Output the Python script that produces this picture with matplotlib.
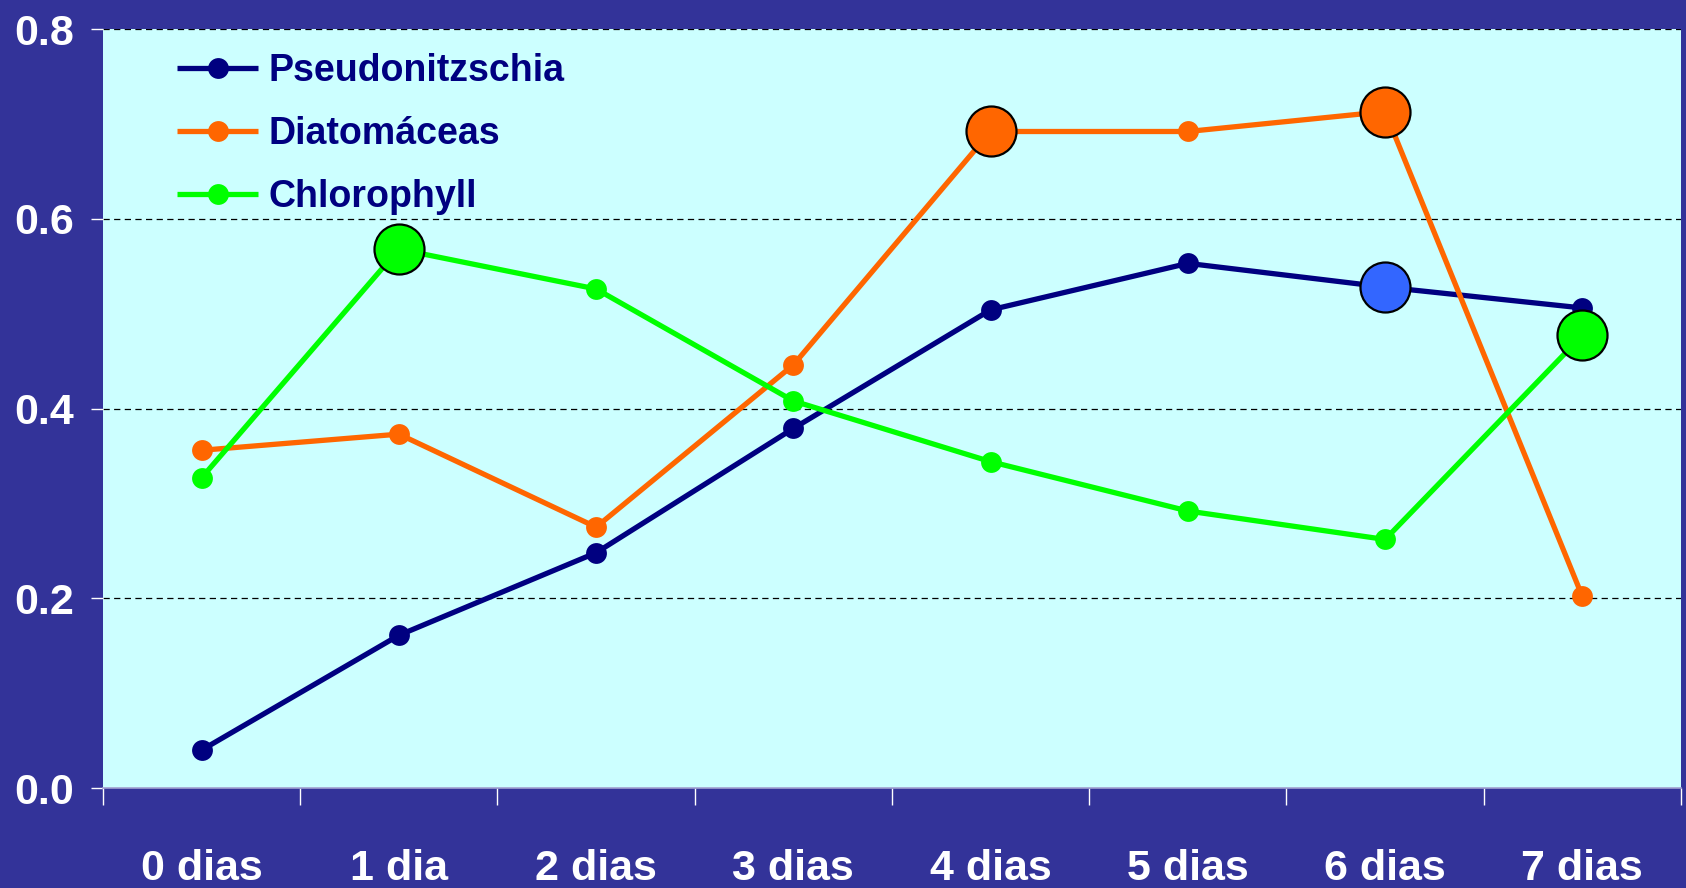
import matplotlib.pyplot as plt
import numpy as np

# Dias de incubação e valores de cada série
dias = ['0 dias', '1 dia', '2 dias', '3 dias', '4 dias', '5 dias', '6 dias', '7 dias']
pseudonitzschia = [0.040, 0.161, 0.248, 0.379, 0.504, 0.553, 0.528, 0.506]
diatomaceas = [0.356, 0.373, 0.275, 0.446, 0.692, 0.692, 0.713, 0.202]
chlorophyll = [0.327, 0.568, 0.526, 0.408, 0.344, 0.292, 0.262, 0.477]

# Pontos destacados com círculos grandes (índice do dia)
destaque_pseudo = [6]
destaque_diat = [4, 6]
destaque_chl = [1, 7]

fundo = '#333399'
area = '#CCFFFF'
azul_escuro = '#000080'
laranja = '#FF6600'
verde = '#00FF00'

fig = plt.figure(figsize=(16.86, 8.88), dpi=100, facecolor=fundo)
ax = fig.add_axes([0.0611, 0.1126, 0.9359, 0.8547])
ax.set_facecolor(area)

x = np.arange(len(dias)) + 0.5

series = [
    ('Pseudonitzschia', pseudonitzschia, azul_escuro, destaque_pseudo, '#3366FF', 3),
    ('Diatomáceas', diatomaceas, laranja, destaque_diat, laranja, 4),
    ('Chlorophyll', chlorophyll, verde, destaque_chl, verde, 5),
]

for nome, valores, cor, idx, cor_destaque, z in series:
    ax.plot(x, valores, color=cor, lw=3.8, marker='o', markersize=15,
            markeredgewidth=0, label=nome, zorder=z, solid_capstyle='butt')

for nome, valores, cor, idx, cor_destaque, z in series:
    xs = [x[i] for i in idx]
    ys = [valores[i] for i in idx]
    ax.plot(xs, ys, linestyle='none', marker='o', markersize=36,
            markerfacecolor=cor_destaque, markeredgecolor='black',
            markeredgewidth=1.6, zorder=10)

ax.set_xlim(0, len(dias))
ax.set_ylim(0, 0.8)

# grade tracejada
for y in [0.2, 0.4, 0.6, 0.8]:
    ax.axhline(y, color='black', lw=0.9, linestyle=(0, (5, 3.5)), zorder=1)

for lado in ['top', 'right', 'left']:
    ax.spines[lado].set_visible(False)
ax.spines['bottom'].set_color('#A0A0D0')
ax.spines['bottom'].set_linewidth(1.2)

ax.set_yticks([0.0, 0.2, 0.4, 0.6, 0.8])
ax.set_yticklabels(['0.0', '0.2', '0.4', '0.6', '0.8'])
ax.tick_params(axis='y', colors='white', direction='out', length=9, width=1,
               pad=12, labelsize=31)
for t in ax.get_yticklabels():
    t.set_fontweight('bold')
    t.set_family(['Liberation Sans', 'DejaVu Sans'])

# marcas do eixo x nas divisões, rótulos no centro de cada dia
ax.set_xticks(np.arange(len(dias) + 1))
ax.set_xticklabels([])
ax.tick_params(axis='x', which='major', colors='white', direction='out',
               length=12, width=1)
ax.set_xticks(x, minor=True)
ax.set_xticklabels(dias, minor=True)
ax.tick_params(axis='x', which='minor', length=0, pad=44, labelsize=31,
               labelcolor='white')
for t in ax.get_xticklabels(minor=True):
    t.set_fontweight('bold')
    t.set_family(['Liberation Sans', 'DejaVu Sans'])

leg = ax.legend(loc='upper left', bbox_to_anchor=(0.047, 0.968), frameon=False,
                handlelength=2.16, handletextpad=0.27,
                labelspacing=0.72, borderpad=0, borderaxespad=0,
                prop={'family': ['Liberation Sans', 'DejaVu Sans'],
                      'weight': 'bold', 'size': 27})
for t in leg.get_texts():
    t.set_color(azul_escuro)
for h in leg.legend_handles:
    h.set_markersize(15)

fig.savefig('out.png', dpi=100, facecolor=fundo)
